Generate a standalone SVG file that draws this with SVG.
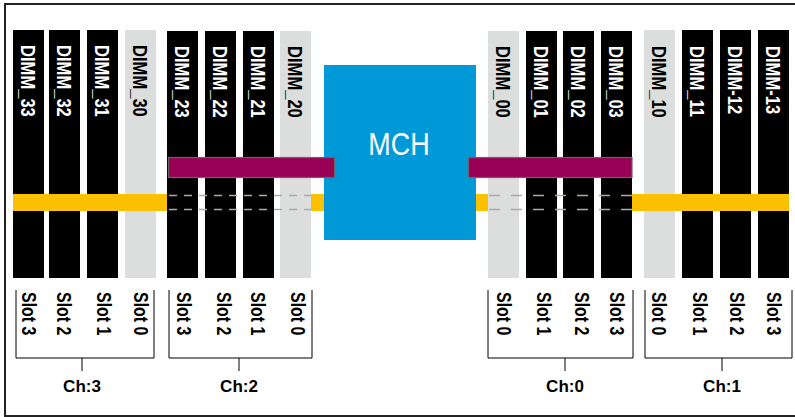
<svg xmlns="http://www.w3.org/2000/svg" width="795" height="417" viewBox="0 0 795 417">
<style>
.dk{fill:#000}
.lt{fill:#dcdddd}
.dt{font-family:"Liberation Sans",Arial,sans-serif;font-weight:bold;font-size:21px}
.w{fill:#fff}
.b{fill:#000}
.sl{font-family:"Liberation Sans",Arial,sans-serif;font-weight:bold;font-size:21px;fill:#000}
.ch{font-family:"Liberation Sans",Arial,sans-serif;font-weight:bold;font-size:17px;fill:#000;text-anchor:middle}
.yel{fill:#fbc000}
.bus{fill:#990055;stroke:#666;stroke-width:1.2}
.br{fill:none;stroke:#000;stroke-width:1}
.dsh{stroke:#aaa;stroke-width:1.5;fill:none}
</style>
<rect x="5" y="4" width="800" height="412" fill="#fff" stroke="#222" stroke-width="2"/>

<g id="dimm-outer">
<g id="DIMM_33"><rect class="dk" x="13" y="30" width="31" height="248"/><text class="dt w" transform="translate(28.5,45) rotate(90) scale(0.79,1)" y="7.5">DIMM_33</text></g>
<g id="DIMM_32"><rect class="dk" x="49" y="30" width="31" height="248"/><text class="dt w" transform="translate(64.5,45) rotate(90) scale(0.79,1)" y="7.5">DIMM_32</text></g>
<g id="DIMM_31"><rect class="dk" x="87" y="30" width="31" height="248"/><text class="dt w" transform="translate(102.5,45) rotate(90) scale(0.79,1)" y="7.5">DIMM_31</text></g>
<g id="DIMM_30"><rect class="lt" x="125" y="30" width="31" height="248"/><text class="dt b" transform="translate(140.5,45) rotate(90) scale(0.79,1)" y="7.5">DIMM_30</text></g>
<g id="DIMM_10"><rect class="lt" x="644" y="30" width="31" height="248"/><text class="dt b" transform="translate(659.5,46) rotate(90) scale(0.79,1)" y="7.5">DIMM_10</text></g>
<g id="DIMM_11"><rect class="dk" x="682" y="30" width="31" height="248"/><text class="dt w" transform="translate(697.5,46) rotate(90) scale(0.79,1)" y="7.5">DIMM_11</text></g>
<g id="DIMM-12"><rect class="dk" x="720" y="30" width="31" height="248"/><text class="dt w" transform="translate(735.5,46) rotate(90) scale(0.79,1)" y="7.5">DIMM-12</text></g>
<g id="DIMM-13"><rect class="dk" x="758" y="30" width="31" height="248"/><text class="dt w" transform="translate(773.5,46) rotate(90) scale(0.79,1)" y="7.5">DIMM-13</text></g>
</g>

<g id="dimm-inner">
<g id="DIMM_23"><rect class="dk" x="167" y="31" width="31" height="247"/><text class="dt w" transform="translate(182.5,46) rotate(90) scale(0.79,1)" y="7.5">DIMM_23</text></g>
<g id="DIMM_22"><rect class="dk" x="205" y="31" width="31" height="247"/><text class="dt w" transform="translate(220.5,46) rotate(90) scale(0.79,1)" y="7.5">DIMM_22</text></g>
<g id="DIMM_21"><rect class="dk" x="243" y="31" width="31" height="247"/><text class="dt w" transform="translate(258.5,46) rotate(90) scale(0.79,1)" y="7.5">DIMM_21</text></g>
<g id="DIMM_20"><rect class="lt" x="280" y="31" width="31" height="247"/><text class="dt b" transform="translate(295.5,46) rotate(90) scale(0.79,1)" y="7.5">DIMM_20</text></g>
<g id="DIMM_00"><rect class="lt" x="488" y="31" width="31" height="247"/><text class="dt b" transform="translate(503.5,46) rotate(90) scale(0.79,1)" y="7.5">DIMM_00</text></g>
<g id="DIMM_01"><rect class="dk" x="526" y="31" width="31" height="247"/><text class="dt w" transform="translate(541.5,46) rotate(90) scale(0.79,1)" y="7.5">DIMM_01</text></g>
<g id="DIMM_02"><rect class="dk" x="563" y="31" width="31" height="247"/><text class="dt w" transform="translate(578.5,46) rotate(90) scale(0.79,1)" y="7.5">DIMM_02</text></g>
<g id="DIMM_03"><rect class="dk" x="601" y="31" width="31" height="247"/><text class="dt w" transform="translate(616.5,46) rotate(90) scale(0.79,1)" y="7.5">DIMM_03</text></g>
</g>

<g id="connectors">
<rect class="yel" x="13" y="194" width="154" height="17"/>
<rect class="yel" x="311" y="194" width="14" height="17"/>
<rect class="yel" x="475" y="194" width="13" height="17"/>
<rect class="yel" x="632" y="194" width="157" height="17"/>
<path class="dsh" stroke-dasharray="8 7" d="M169,195.5 H311 M169,209.5 H311"/>
<path class="dsh" stroke-dasharray="11 11" d="M489,195.5 H632 M489,209.5 H632"/>
<path class="br" d="M16,290 V358 H154 V290 M82,358 V371"/>
<path class="br" d="M169,290 V358 H312 V290 M239,358 V371"/>
<path class="br" d="M488,290 V358 H633 V290 M565,358 V371"/>
<path class="br" d="M645,290 V358 H792 V290 M722,358 V371"/>
</g>

<g id="MCH">
<rect x="324" y="65" width="152" height="175" fill="#0099d8"/>
<text transform="translate(399,155) scale(0.87,1)" text-anchor="middle" font-family="Liberation Sans, Arial, sans-serif" font-size="31" fill="#fff">MCH</text>
</g>

<g id="bus-left"><rect class="bus" x="168.5" y="157.5" width="166" height="20"/></g>
<g id="bus-right"><rect class="bus" x="468.5" y="157.5" width="163.5" height="20"/></g>

<g id="slots-ch3">
<text class="sl" transform="translate(29.5,292) rotate(90) scale(0.76,1)" y="7.5">Slot 3</text>
<text class="sl" transform="translate(64.5,292) rotate(90) scale(0.76,1)" y="7.5">Slot 2</text>
<text class="sl" transform="translate(104.5,292) rotate(90) scale(0.76,1)" y="7.5">Slot 1</text>
<text class="sl" transform="translate(141.5,292) rotate(90) scale(0.76,1)" y="7.5">Slot 0</text>
<text class="ch" x="82" y="392">Ch:3</text>
</g>
<g id="slots-ch2">
<text class="sl" transform="translate(184.5,292) rotate(90) scale(0.76,1)" y="7.5">Slot 3</text>
<text class="sl" transform="translate(224.5,292) rotate(90) scale(0.76,1)" y="7.5">Slot 2</text>
<text class="sl" transform="translate(258.5,292) rotate(90) scale(0.76,1)" y="7.5">Slot 1</text>
<text class="sl" transform="translate(298.5,292) rotate(90) scale(0.76,1)" y="7.5">Slot 0</text>
<text class="ch" x="239" y="392">Ch:2</text>
</g>
<g id="slots-ch0">
<text class="sl" transform="translate(504.5,292) rotate(90) scale(0.76,1)" y="7.5">Slot 0</text>
<text class="sl" transform="translate(544.5,292) rotate(90) scale(0.76,1)" y="7.5">Slot 1</text>
<text class="sl" transform="translate(582.5,292) rotate(90) scale(0.76,1)" y="7.5">Slot 2</text>
<text class="sl" transform="translate(617.5,292) rotate(90) scale(0.76,1)" y="7.5">Slot 3</text>
<text class="ch" x="565" y="392">Ch:0</text>
</g>
<g id="slots-ch1">
<text class="sl" transform="translate(659.5,292) rotate(90) scale(0.76,1)" y="7.5">Slot 0</text>
<text class="sl" transform="translate(700.5,292) rotate(90) scale(0.76,1)" y="7.5">Slot 1</text>
<text class="sl" transform="translate(737.5,292) rotate(90) scale(0.76,1)" y="7.5">Slot 2</text>
<text class="sl" transform="translate(774.5,292) rotate(90) scale(0.76,1)" y="7.5">Slot 3</text>
<text class="ch" x="722" y="392">Ch:1</text>
</g>
</svg>
